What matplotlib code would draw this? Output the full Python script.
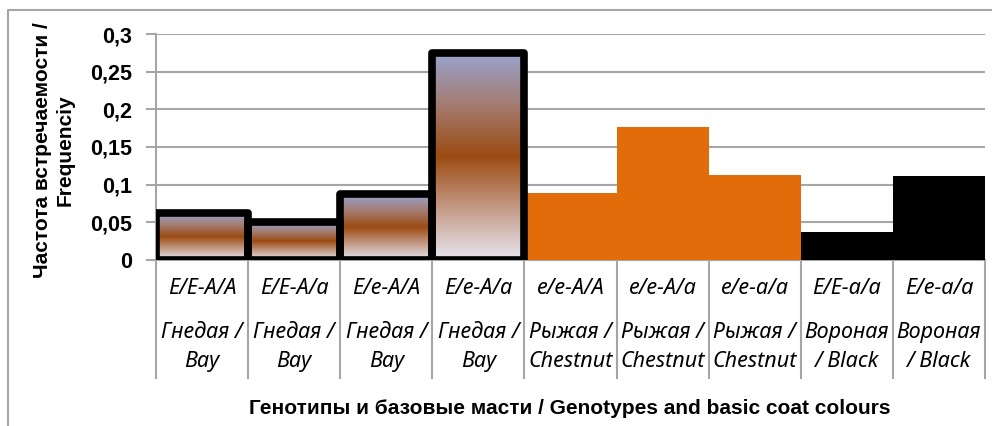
import matplotlib
matplotlib.use('Agg')
import matplotlib.pyplot as plt
import numpy as np
from matplotlib.colors import LinearSegmentedColormap
from matplotlib.lines import Line2D
from matplotlib.ticker import FuncFormatter

# data
genotypes = ['E/E-A/A', 'E/E-A/a', 'E/e-A/A', 'E/e-A/a', 'e/e-A/A',
             'e/e-A/a', 'e/e-a/a', 'E/E-a/a', 'E/e-a/a']
colour_ru = ['Гнедая /', 'Гнедая /', 'Гнедая /', 'Гнедая /', 'Рыжая /',
             'Рыжая /', 'Рыжая /', 'Вороная', 'Вороная']
colour_en = ['Bay', 'Bay', 'Bay', 'Bay', 'Chestnut',
             'Chestnut', 'Chestnut', '/ Black', '/ Black']
coat = ['bay', 'bay', 'bay', 'bay', 'chestnut', 'chestnut', 'chestnut', 'black', 'black']
freq = [0.062, 0.050, 0.087, 0.275, 0.089, 0.177, 0.113, 0.037, 0.111]

narrow = ['Liberation Sans Narrow', 'Liberation Sans', 'DejaVu Sans']
label_font = ['Noto Sans', 'DejaVu Sans']

bay_cmap = LinearSegmentedColormap.from_list(
    'bay', ['#e6e6ef', '#c49a86', '#9c4b12', '#a47c72', '#98a4d0'])
grid_col = '#a6a6a6'

fig = plt.figure(figsize=(9.92, 4.26), dpi=100)
ax = fig.add_axes([156 / 992, 1 - 260 / 426, (985 - 156) / 992, 226 / 426])

x = np.arange(len(freq))
grad = np.linspace(0, 1, 256).reshape(-1, 1)
for i, (v, c) in enumerate(zip(freq, coat)):
    if c == 'bay':
        bar = ax.bar(i, v, width=1.0, facecolor='none', edgecolor='black',
                     linewidth=5.5, joinstyle='round', zorder=4)[0]
        im = ax.imshow(grad, cmap=bay_cmap, origin='lower', aspect='auto',
                       extent=(i - 0.5, i + 0.5, 0, v), zorder=3)
        im.set_clip_path(bar)
    elif c == 'chestnut':
        ax.bar(i, v, width=1.0, color='#e36c0a', linewidth=0, zorder=3)
    else:
        ax.bar(i, v, width=1.0, color='black', linewidth=0, zorder=3)

ax.set_xlim(-0.5, len(freq) - 0.5)
ax.set_ylim(0, 0.3)
ax.set_yticks(np.arange(0, 0.301, 0.05))
ax.yaxis.set_major_formatter(FuncFormatter(lambda v, p: ('%g' % round(v, 2)).replace('.', ',')))
ax.grid(axis='y', color=grid_col, linewidth=1.5, zorder=0)
ax.set_axisbelow(True)
for s in ['top', 'right']:
    ax.spines[s].set_visible(False)
for s in ['left', 'bottom']:
    ax.spines[s].set_color(grid_col)
    ax.spines[s].set_linewidth(1.5)
ax.tick_params(axis='y', length=7, width=1.5, color=grid_col, pad=10)
ax.tick_params(axis='x', length=0, labelbottom=False)
for lab in ax.get_yticklabels():
    lab.set_fontfamily(narrow)
    lab.set_fontweight('bold')
    lab.set_fontsize(15.5)

# category boxes below the axis
trans = ax.get_xaxis_transform()
for b in np.arange(-0.5, len(freq), 1.0):
    ax.plot([b, b], [0, -0.522], transform=trans, color=grid_col,
            linewidth=1.5, clip_on=False)
for i in x:
    ax.text(i, -0.128, genotypes[i], transform=trans, ha='center', va='center',
            fontsize=15.5, style='italic', family=label_font)
    ax.text(i, -0.323, colour_ru[i], transform=trans, ha='center', va='center',
            fontsize=15.5, style='italic', family=label_font)
    ax.text(i, -0.451, colour_en[i], transform=trans, ha='center', va='center',
            fontsize=15.5, style='italic', family=label_font)

fig.text(570 / 992, 1 - 408 / 426, 'Генотипы и базовые масти / Genotypes and basic coat colours',
         ha='center', va='center', fontsize=15, fontweight='bold', family=narrow)
fig.text(54 / 992, 1 - 150 / 426, 'Частота встречаемости /\nFrequenciy', rotation=90,
         ha='center', va='center', fontsize=15, fontweight='bold', family=narrow,
         linespacing=1.25)

# outer chart frame
fig.add_artist(Line2D([8 / 992, 8 / 992, 1.0], [0.0, 1 - 10 / 426, 1 - 10 / 426],
                      transform=fig.transFigure, color=grid_col, linewidth=1.5))

fig.savefig('out.png', dpi=100)
